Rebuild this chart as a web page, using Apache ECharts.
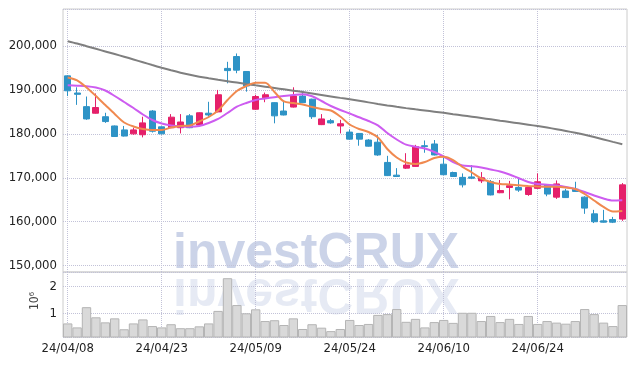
<!DOCTYPE html>
<html>
<head>
<meta charset="utf-8">
<script src="https://cdn.jsdelivr.net/npm/echarts@6/dist/echarts.min.js"></script>
<style>html,body{margin:0;padding:0;background:#fff}#c{width:636px;height:366px}</style>
</head>
<body>
<div id="c"></div>
<script>
const dates = ['24/04/08','24/04/09','24/04/11','24/04/12','24/04/15','24/04/16','24/04/17','24/04/18','24/04/19','24/04/22',
'24/04/23','24/04/24','24/04/25','24/04/26','24/04/29','24/04/30','24/05/02','24/05/03','24/05/07','24/05/08',
'24/05/09','24/05/10','24/05/13','24/05/14','24/05/16','24/05/17','24/05/20','24/05/21','24/05/22','24/05/23',
'24/05/24','24/05/27','24/05/28','24/05/29','24/05/30','24/05/31','24/06/03','24/06/04','24/06/05','24/06/07',
'24/06/10','24/06/11','24/06/12','24/06/13','24/06/14','24/06/17','24/06/18','24/06/19','24/06/20','24/06/21',
'24/06/24','24/06/25','24/06/26','24/06/27','24/06/28','24/07/01','24/07/02','24/07/03','24/07/04','24/07/05'];

const openP  = [193200,189300,186200,184700,183900,181800,180900,180000,179800,185200,
181600,181400,181400,184100,182000,184700,185000,194900,197600,194200,
185600,188200,187100,185200,186100,188600,187900,182100,183000,181800,
180400,180100,178600,178100,173500,170600,172200,172600,177300,177700,
173100,171200,170100,170200,169300,169100,166600,167800,167800,166200,
167600,168400,165600,167000,167400,165600,161800,160200,160500,160600];
const closeP = [189800,189000,183400,186000,182800,179400,179500,180900,182500,180600,
180000,183800,182700,181400,184800,184300,188900,194400,194500,190900,
188500,188900,184100,184300,188600,187100,183900,183400,182500,182300,
178800,178800,177200,175200,170500,170300,172900,177100,177100,175200,
170700,170300,168400,169900,170000,166100,167100,168200,167200,167800,
169100,166300,168600,165500,166900,163100,160000,159900,159900,168400];
const lowP   = [188600,186600,183200,184600,182500,179300,179400,179800,179200,180300,
179900,181300,180100,181300,181900,183900,184900,191500,193800,189600,
185500,187200,182400,184200,186000,187000,183400,182000,182300,180100,
178700,177300,177100,175000,170400,170200,172000,172500,175700,175100,
170600,170200,167800,169700,168800,166000,166500,165100,166800,165900,
167500,165800,165200,165400,166800,161800,159700,159800,159700,160200];
const highP  = [193300,190600,188500,189200,184800,181900,181800,181400,183900,185400,
181700,184500,184500,184500,184900,187300,190000,196400,198300,194300,
188900,189400,187200,187300,190600,189800,188000,184500,183400,183200,
181000,180200,178800,179700,175000,172200,175600,177500,178500,178600,
175000,171400,171000,172900,171300,169500,169500,169300,169900,168100,
171000,168500,169400,167500,169100,165800,162700,162700,161100,168800];

const maShort = [192830,192150,190550,188620,186570,184520,182590,181680,181110,180880,
180880,181450,181790,181910,182820,183840,185320,187710,189760,190900,
191650,191650,189530,187370,187030,186690,186120,185660,185320,183950,
182130,181110,180430,179170,176560,174620,173490,173140,173600,174510,
174800,174050,172460,171210,169840,169050,168590,168480,168300,168140,
168020,167980,167980,167800,167450,166310,164840,163360,162330,162450];
const maMid = [191060,190960,190850,190550,189870,188620,187250,185890,184410,183160,
182360,181910,181680,181630,181790,182470,183390,184750,186180,187030,
187710,188050,188350,188620,188850,189030,188550,187480,186340,185430,
184640,183770,182930,181950,180200,178720,177540,177060,176670,175870,
174850,173600,172800,172640,172350,171890,171440,170750,169890,169050,
168590,168410,168250,167910,167450,166770,165970,165290,164840,164880];
const maLong = [201090,200560,199960,199360,198760,198160,197560,196940,196300,195660,
195040,194460,193920,193440,193020,192660,192320,191990,191670,191350,
191040,190740,190440,190140,189830,189520,189200,188870,188530,188190,
187860,187520,187170,186820,186480,186160,185860,185580,185320,185050,
184780,184490,184200,183910,183610,183310,183000,182700,182400,182090,
181770,181430,181060,180660,180240,179780,179270,178730,178180,177650];

const volume = [620000,470000,1230000,850000,660000,810000,400000,620000,770000,520000,
470000,590000,440000,440000,510000,620000,1090000,2320000,1310000,1000000,
1150000,710000,740000,560000,810000,410000,590000,460000,330000,410000,
750000,560000,600000,940000,970000,1160000,680000,790000,470000,670000,
750000,640000,1020000,1020000,710000,900000,670000,790000,600000,900000,
600000,710000,650000,610000,710000,1160000,970000,650000,520000,1310000];

const labelStep = 10;
const candleData = dates.map((d, i) => [openP[i], closeP[i], lowP[i], highP[i]]);
const tickIdx = dates.map((d, i) => i).filter(i => i % labelStep === 0);
const vMainData = tickIdx.map(i => [dates[i], closeP[i]]);
const vVolData = tickIdx.map(i => [dates[i], volume[i]]);

const FONT = "'DejaVu Sans Condensed','DejaVu Sans',sans-serif";
const WM_FONT = "bold 50px 'Liberation Sans', Arial, sans-serif";
const GRID_COLOR = '#c2c2d8';
const gridLine = { color: GRID_COLOR, type: 'dotted', width: 1 };

function vLineItem(params, api) {
  const p = api.coord([api.value(0), api.value(1)]);
  const cs = params.coordSys;
  const x = Math.floor(p[0]) + 0.5;
  return { type: 'line', silent: true,
    shape: { x1: x, y1: cs.y, x2: x, y2: cs.y + cs.height },
    style: { stroke: GRID_COLOR, lineWidth: 1, lineDash: [1, 1] } };
}

const chart = echarts.init(document.getElementById('c'), null, { renderer: 'canvas' });
chart.setOption({
  animation: false,
  grid: [
    { left: 63, right: 9, top: 9, height: 263, show: true, backgroundColor: 'transparent', borderColor: '#cccccc', borderWidth: 1 },
    { left: 63, right: 9, top: 272, bottom: 29, show: true, backgroundColor: 'transparent', borderColor: '#cccccc', borderWidth: 1 }
  ],
  graphic: [
    { type: 'text', z: -3, silent: true, x: 173, y: 254,
      style: { text: 'investCRUX', font: WM_FONT, fill: 'rgba(140,158,205,0.45)', textAlign: 'left', textVerticalAlign: 'middle' } },
    { type: 'text', z: -3, silent: true, x: 173, y: 293, scaleY: -1,
      style: { text: 'investCRUX', font: WM_FONT, fill: 'rgba(140,158,205,0.22)', textAlign: 'left', textVerticalAlign: 'middle' } },
    { type: 'text', z: 5, x: 35, y: 301, rotation: Math.PI / 2,
      style: { text: '10⁶', font: "12px " + FONT, fill: '#444', textAlign: 'center', textVerticalAlign: 'middle' } }
  ],
  xAxis: [
    { type: 'category', gridIndex: 0, data: dates, boundaryGap: true,
      axisLine: { show: false }, axisTick: { show: false }, axisLabel: { show: false },
      splitLine: { show: false } },
    { type: 'category', gridIndex: 1, data: dates, boundaryGap: true,
      axisLine: { show: false }, axisTick: { show: false },
      axisLabel: { show: true, interval: labelStep - 1, margin: 5, color: '#222', fontSize: 13, fontFamily: FONT },
      splitLine: { show: false } }
  ],
  yAxis: [
    { type: 'value', gridIndex: 0, min: 148560, max: 208420, splitNumber: 6, scale: true,
      axisLine: { show: false }, axisTick: { show: false },
      axisLabel: { margin: 6, color: '#222', fontSize: 13, fontFamily: FONT,
        showMinLabel: false, showMaxLabel: false,
        formatter: v => (v % 10000 === 0 ? v.toLocaleString('en-US') : '') },
      splitLine: { show: true, lineStyle: gridLine } },
    { type: 'value', gridIndex: 1, min: 109000, max: 2553000, splitNumber: 2, scale: true,
      axisLine: { show: false }, axisTick: { show: false },
      axisLabel: { margin: 6, color: '#222', fontSize: 13, fontFamily: FONT,
        showMinLabel: false, showMaxLabel: false,
        formatter: v => (v % 1000000 === 0 ? String(v / 1000000) : '') },
      splitLine: { show: true, lineStyle: gridLine } }
  ],
  series: [
    { type: 'custom', xAxisIndex: 0, yAxisIndex: 0, data: vMainData, renderItem: vLineItem, z: 2, silent: true, clip: false },
    { type: 'custom', xAxisIndex: 1, yAxisIndex: 1, data: vVolData, renderItem: vLineItem, z: 2, silent: true, clip: false },
    { type: 'bar', xAxisIndex: 1, yAxisIndex: 1, data: volume, barCategoryGap: '0%', z: 3,
      itemStyle: { color: '#d9d9d9', borderColor: '#b5b5b5', borderWidth: 1 } },
    { type: 'candlestick', xAxisIndex: 0, yAxisIndex: 0, data: candleData, barWidth: '70%', z: 3,
      itemStyle: { color: '#e5206a', color0: '#2e93c6', borderColor: '#e5206a', borderColor0: '#2e93c6', borderWidth: 1 } },
    { type: 'line', xAxisIndex: 0, yAxisIndex: 0, data: maLong, smooth: 0.3, symbol: 'none', z: 4,
      lineStyle: { color: '#7f7f7f', width: 2 } },
    { type: 'line', xAxisIndex: 0, yAxisIndex: 0, data: maMid, smooth: 0.3, symbol: 'none', z: 4,
      lineStyle: { color: '#cd5cf0', width: 2 } },
    { type: 'line', xAxisIndex: 0, yAxisIndex: 0, data: maShort, smooth: 0.3, symbol: 'none', z: 4,
      lineStyle: { color: '#f0894f', width: 2 } }
  ]
});
</script>
</body>
</html>
